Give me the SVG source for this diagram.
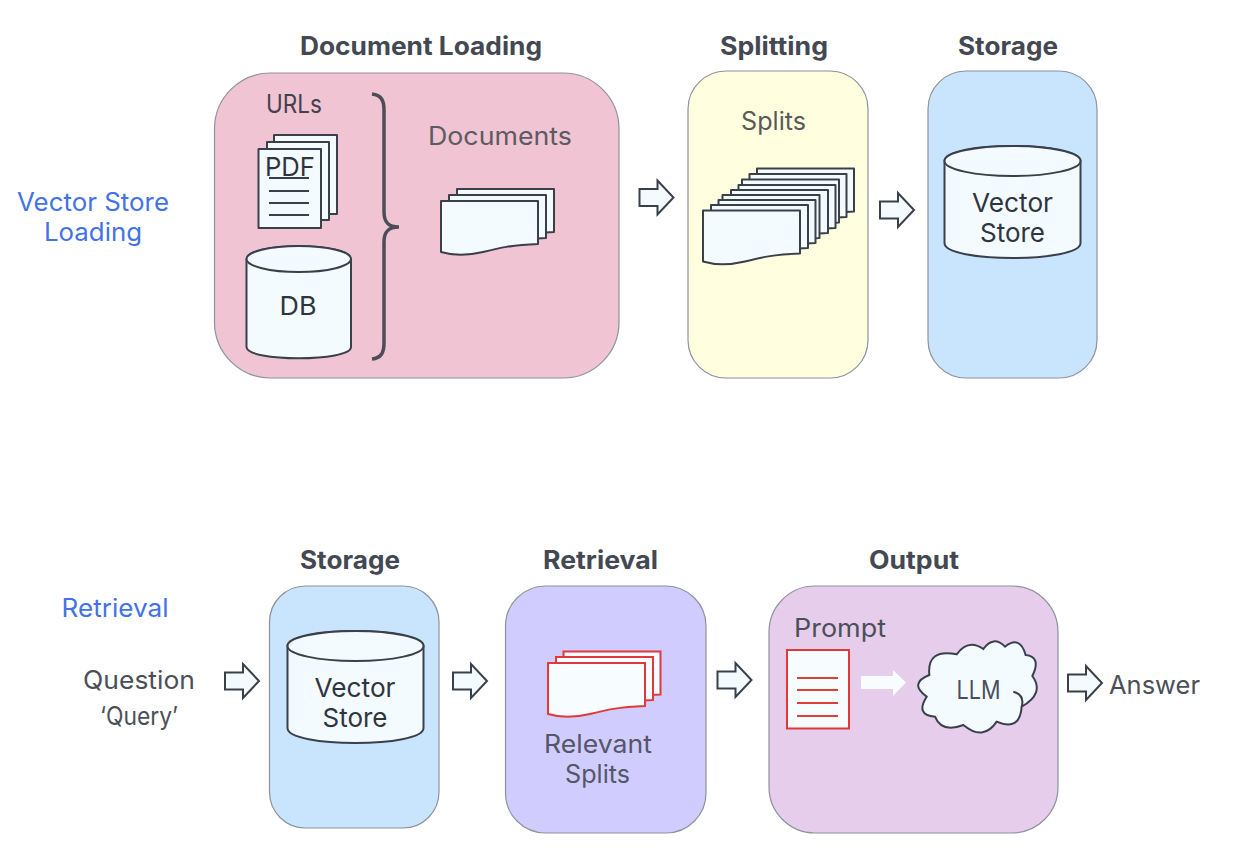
<svg xmlns="http://www.w3.org/2000/svg" width="1234" height="856" viewBox="0 0 1234 856">
<style>
text{font-family:"Inter","Liberation Sans",sans-serif;text-anchor:middle}
.h{font-size:25px;font-weight:700;fill:#434852}
.t{font-size:25px;fill:#4c4f58}
.d{font-size:26px;fill:#2f3540}
.b{font-size:25px;fill:#4472e6}
.box{stroke:#8d929c;stroke-width:1.2}
.pg{fill:#f3fbff;stroke:#3a404b;stroke-width:2;stroke-linejoin:round}
.rd{fill:#f7fcff;stroke:#e0393a;stroke-width:2}
.ln{stroke:#3a404b;stroke-width:2;fill:none}
.rl{stroke:#de3f38;stroke-width:2;fill:none}
.ar{fill:#f3fbff;stroke:#3a404b;stroke-width:2;stroke-linejoin:miter}
</style>
<defs>
<path id="arrow" d="M0 -8.500H18V-17L34 0L18 17V8.500H0Z"/>
<path id="wave" d="M0 0H97V43C70 44 58 47 42 51C25 55 10 54 0 51Z"/>
<g id="cyl">
<path class="pg" d="M0 15C0 -5 136 -5 136 15V97C136 117 0 117 0 97Z"/>
<ellipse class="pg" cx="68" cy="15" rx="68" ry="15"/>
</g>
</defs>

<g id="section-labels">
<text class="b" x="93" y="211" textLength="152" lengthAdjust="spacingAndGlyphs">Vector Store</text>
<text class="b" x="93" y="241" textLength="98" lengthAdjust="spacingAndGlyphs">Loading</text>
<text class="b" x="115" y="617" textLength="107" lengthAdjust="spacingAndGlyphs">Retrieval</text>
</g>

<g id="document-loading">
<rect class="box" x="214.500" y="73" width="404.500" height="305" rx="56" fill="#f1c4d4"/>
<text class="h" x="421" y="55" textLength="242" lengthAdjust="spacingAndGlyphs">Document Loading</text>
<text class="t" x="294" y="113" textLength="56" lengthAdjust="spacingAndGlyphs" style="fill:#45414c">URLs</text>
<text class="t" x="500" y="145" textLength="144" lengthAdjust="spacingAndGlyphs" style="fill:#5c5a62">Documents</text>
<rect class="pg" x="274" y="135" width="63" height="79"/>
<rect class="pg" x="267" y="142" width="62" height="78"/>
<rect class="pg" x="258.500" y="149" width="62.500" height="79"/>
<text class="d" x="290" y="176" textLength="50" lengthAdjust="spacingAndGlyphs">PDF</text>
<path class="ln" d="M269 178H309M269 191H309M269 203H309M269 215H309"/>
<g id="db">
<path class="pg" d="M246.500 259C246.500 242 351 242 351 259V347C351 362 246.500 362 246.500 347Z"/>
<ellipse class="pg" cx="298.750" cy="259" rx="52.250" ry="13"/>
<text class="d" x="298" y="315" textLength="37" lengthAdjust="spacingAndGlyphs">DB</text>
</g>
<path d="M372 94C381 95 384 100 384 110V212C384 222 388 227 399 227C388 227 384 232 384 242V343C384 353 381 358 372 359" fill="none" stroke="#4c4d57" stroke-width="3.500"/>
<use href="#wave" class="pg" x="457" y="189"/>
<use href="#wave" class="pg" x="449" y="195"/>
<use href="#wave" class="pg" x="441" y="201"/>
</g>

<g id="splitting">
<rect class="box" x="688" y="71" width="180" height="307" rx="38" fill="#ffffe0"/>
<text class="h" x="774" y="55" textLength="108" lengthAdjust="spacingAndGlyphs">Splitting</text>
<text class="t" x="773.500" y="130" textLength="65" lengthAdjust="spacingAndGlyphs" style="fill:#5a5a58">Splits</text>
<use href="#wave" class="pg" x="757" y="168.500"/>
<use href="#wave" class="pg" x="749.500" y="174"/>
<use href="#wave" class="pg" x="742" y="179.500"/>
<use href="#wave" class="pg" x="738.500" y="185"/>
<use href="#wave" class="pg" x="731" y="190"/>
<use href="#wave" class="pg" x="722.500" y="195"/>
<use href="#wave" class="pg" x="718.500" y="200"/>
<use href="#wave" class="pg" x="711" y="205"/>
<use href="#wave" class="pg" x="703" y="210.500"/>
</g>

<g id="storage-top">
<rect class="box" x="928" y="71" width="169" height="307" rx="38" fill="#c9e5fe"/>
<text class="h" x="1008" y="55" textLength="100" lengthAdjust="spacingAndGlyphs">Storage</text>
<use href="#cyl" x="944.500" y="146"/>
<text class="d" x="1012.500" y="212" textLength="81" lengthAdjust="spacingAndGlyphs">Vector</text>
<text class="d" x="1012.500" y="242" textLength="65" lengthAdjust="spacingAndGlyphs">Store</text>
</g>

<g id="question">
<text class="t" x="139" y="689" textLength="112" lengthAdjust="spacingAndGlyphs">Question</text>
<text class="t" x="139" y="725" textLength="78" lengthAdjust="spacingAndGlyphs">‘Query’</text>
</g>

<g id="storage-bottom">
<rect class="box" x="269.500" y="586" width="169.500" height="242" rx="36" fill="#c9e5fe"/>
<text class="h" x="350" y="569" textLength="100" lengthAdjust="spacingAndGlyphs">Storage</text>
<use href="#cyl" x="287.500" y="631"/>
<text class="d" x="355" y="697" textLength="81" lengthAdjust="spacingAndGlyphs">Vector</text>
<text class="d" x="355" y="727" textLength="65" lengthAdjust="spacingAndGlyphs">Store</text>
</g>

<g id="retrieval">
<rect class="box" x="505.500" y="586" width="200.500" height="247" rx="40" fill="#d0cdfe"/>
<text class="h" x="600.500" y="569" textLength="115" lengthAdjust="spacingAndGlyphs">Retrieval</text>
<use href="#wave" class="rd" x="563.500" y="651.500"/>
<use href="#wave" class="rd" x="556" y="657"/>
<use href="#wave" class="rd" x="548" y="663"/>
<text class="t" x="598" y="753" textLength="108" lengthAdjust="spacingAndGlyphs" style="fill:#55566a">Relevant</text>
<text class="t" x="597.500" y="783" textLength="65" lengthAdjust="spacingAndGlyphs" style="fill:#55566a">Splits</text>
</g>

<g id="output">
<rect class="box" x="769" y="586" width="289" height="247" rx="46" fill="#e6cdec"/>
<text class="h" x="914" y="569" textLength="90" lengthAdjust="spacingAndGlyphs">Output</text>
<text class="t" x="840" y="637" textLength="92" lengthAdjust="spacingAndGlyphs">Prompt</text>
<rect class="rd" x="787" y="650" width="62" height="78.500"/>
<path class="rl" d="M797 678H838M797 690H838M797 703H838M797 716H838"/>
<path d="M861 676H893V670L906 682.500L893 696V689H861Z" fill="#f7fcff"/>
<g id="llm">
<g transform="translate(770 600) scale(.33333)" stroke="#3a404b" stroke-width="6">
<path d="M478 225Q470 145 560 163Q595 115 640 147Q670 105 705 140Q750 105 767 165Q815 170 787 228Q825 280 755 320Q750 395 680 365Q640 425 580 375Q515 400 495 350Q435 345 470 290Q415 250 478 225Z" fill="#f3fbff"/>
<path d="M730 275Q765 285 755 320" fill="none"/>
</g>
<text class="d" x="978.500" y="699" textLength="44" lengthAdjust="spacingAndGlyphs" style="fill:#4a4f5c">LLM</text>
</g>
</g>

<g id="answer">
<text class="t" x="1154.500" y="694" textLength="91" lengthAdjust="spacingAndGlyphs">Answer</text>
</g>

<g id="connectors">
<use href="#arrow" class="ar" x="639.500" y="197.500"/>
<use href="#arrow" class="ar" x="880" y="210"/>
<use href="#arrow" class="ar" x="225" y="681"/>
<use href="#arrow" class="ar" x="453" y="681"/>
<use href="#arrow" class="ar" x="717.500" y="680"/>
<use href="#arrow" class="ar" x="1068" y="683"/>
</g>
</svg>
